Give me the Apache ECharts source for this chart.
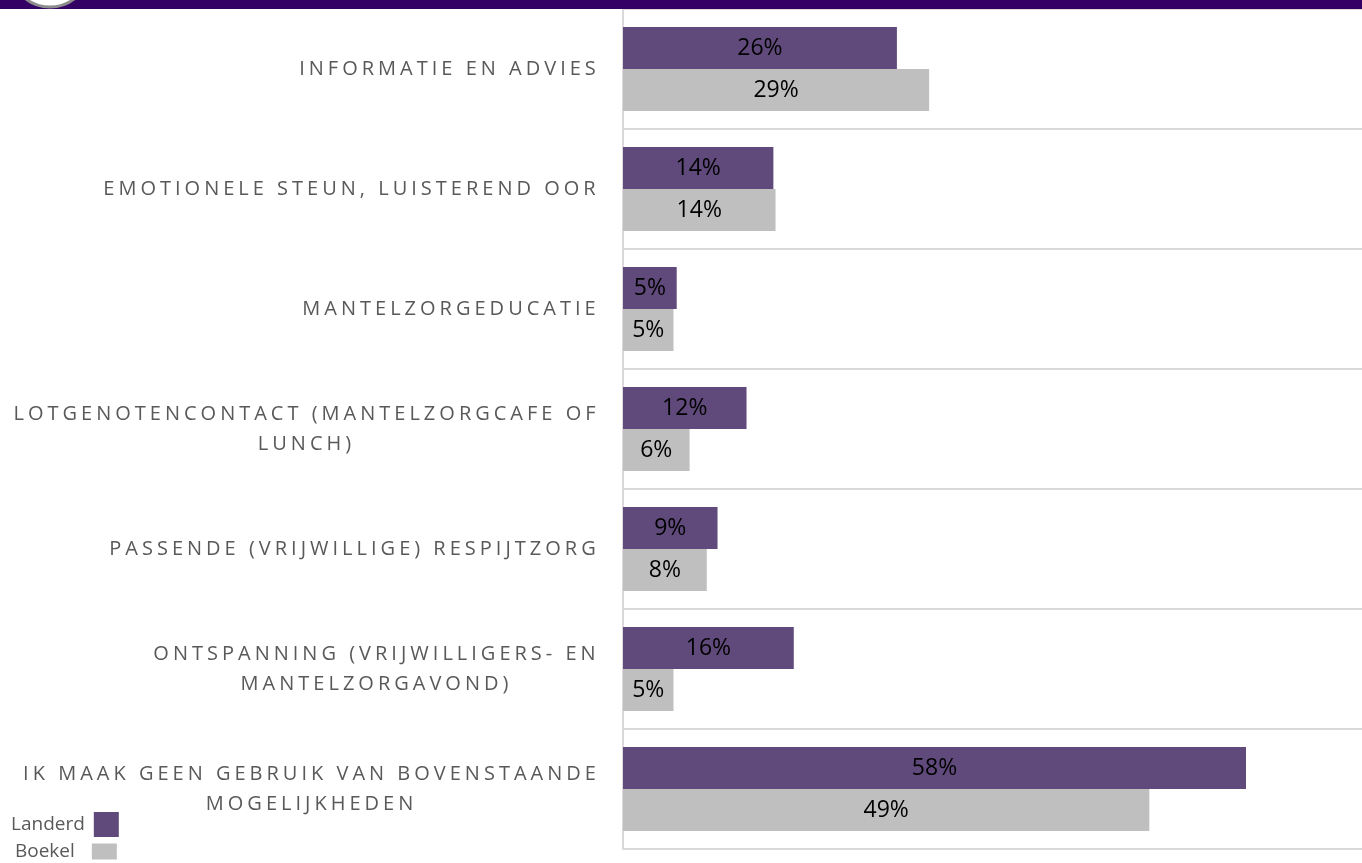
<!DOCTYPE html>
<html>
<head>
<meta charset="utf-8">
<script src="https://cdn.jsdelivr.net/npm/echarts@6/dist/echarts.min.js"></script>
<style>
  html, body { margin: 0; padding: 0; background: #fff; }
  #chart { width: 1362px; height: 863px; }
</style>
</head>
<body>
<div id="chart"></div>
<script>
// categorieen (regelafbreking zoals in origineel)
var categories = [
  'INFORMATIE EN ADVIES',
  'EMOTIONELE STEUN, LUISTEREND OOR',
  'MANTELZORGEDUCATIE',
  'LOTGENOTENCONTACT (MANTELZORGCAFE OF\nLUNCH)',
  'PASSENDE (VRIJWILLIGE) RESPIJTZORG',
  'ONTSPANNING (VRIJWILLIGERS- EN\nMANTELZORGAVOND)',
  'IK MAAK GEEN GEBRUIK VAN BOVENSTAANDE\nMOGELIJKHEDEN'
];
var seriesNames = ['Landerd', 'Boekel'];
var landerd = [25.5, 14.0, 5.0, 11.5, 8.8, 15.9, 58.0];
var boekel = [28.5, 14.2, 4.7, 6.2, 7.8, 4.7, 49.0];

var labelFont = '"Open Sans", sans-serif';
var labelSize = 20;
var letterGap = 4.0; // gewenste letterafstand in px

var ctx = document.createElement('canvas').getContext('2d');
ctx.font = labelSize + 'px ' + labelFont;

// beste combinatie van smalle spaties zoeken voor de letterafstand
var spaces = ['\u200A', '\u2009', '\u2006', '\u2005', '\u2008'];
var sep = '\u2009', best = 1e9;
spaces.forEach(function (a) {
  spaces.concat(['']).forEach(function (b) {
    var w = ctx.measureText('I' + a + b + 'I').width - ctx.measureText('II').width;
    if (Math.abs(w - letterGap) < best) { best = Math.abs(w - letterGap); sep = a + b; }
  });
});

function spaced(s) {
  return s.split('').join(sep);
}

var rich = {};
categories.forEach(function (c, i) {
  var w = 0;
  c.split('\n').forEach(function (l) {
    w = Math.max(w, ctx.measureText(spaced(l)).width);
  });
  rich['c' + i] = {
    width: Math.ceil(w),
    align: 'center',
    fontSize: labelSize,
    fontFamily: labelFont,
    color: '#595959',
    lineHeight: 30
  };
});

var chart = echarts.init(document.getElementById('chart'));

var barLabel = {
  show: true,
  position: 'inside',
  color: '#000',
  fontSize: 23,
  fontFamily: labelFont,
  formatter: function (p) { return Math.round(p.value) + '%'; }
};

var option = {
  animation: false,
  backgroundColor: '#fff',
  graphic: [
    {type: 'rect', shape: {x: 0, y: 0, width: 1362, height: 9}, style: {fill: '#350066'}, z: 10},
    {type: 'circle', shape: {cx: 50, cy: -33, r: 40}, style: {fill: '#fff', stroke: '#8c8c8c', lineWidth: 3}, z: 11}
  ],
  grid: {
    left: 623,
    right: 0,
    top: 9,
    bottom: 14,
    containLabel: false,
    outerBoundsMode: 'none'
  },
  legend: [
    {
      data: ['Landerd'],
      left: 6,
      top: 807,
      align: 'right',
      icon: 'rect',
      itemWidth: 25,
      itemHeight: 25,
      textStyle: {fontSize: 19, color: '#595959', fontFamily: labelFont, padding: [0, 4, 0, 0]}
    },
    {
      data: ['Boekel'],
      left: 10,
      top: 837,
      align: 'right',
      icon: 'rect',
      itemWidth: 25,
      itemHeight: 16,
      textStyle: {fontSize: 19, color: '#595959', fontFamily: labelFont, padding: [0, 12, 0, 0]}
    }
  ],
  xAxis: {
    type: 'value',
    min: 0,
    max: 68.8,
    show: false
  },
  yAxis: {
    type: 'category',
    inverse: true,
    data: categories,
    axisLine: {show: true, lineStyle: {color: '#d9d9d9', width: 2}},
    axisTick: {show: false},
    splitLine: {show: true, lineStyle: {color: '#d9d9d9', width: 2}},
    axisLabel: {
      margin: 27,
      interval: 0,
      fontSize: labelSize,
      fontFamily: labelFont,
      color: '#595959',
      lineHeight: 30,
      rich: rich,
      formatter: function (value, index) {
        return value.split('\n').map(function (l) {
          return '{c' + index + '|' + spaced(l) + '}';
        }).join('\n');
      }
    }
  },
  series: [
    {
      name: seriesNames[0],
      type: 'bar',
      data: landerd,
      barWidth: 42,
      barGap: '0%',
      itemStyle: {color: '#604a7b'},
      label: barLabel
    },
    {
      name: seriesNames[1],
      type: 'bar',
      data: boekel,
      barWidth: 42,
      barGap: '0%',
      itemStyle: {color: '#bfbfbf'},
      label: barLabel
    }
  ]
};

chart.setOption(option);
</script>
</body>
</html>
